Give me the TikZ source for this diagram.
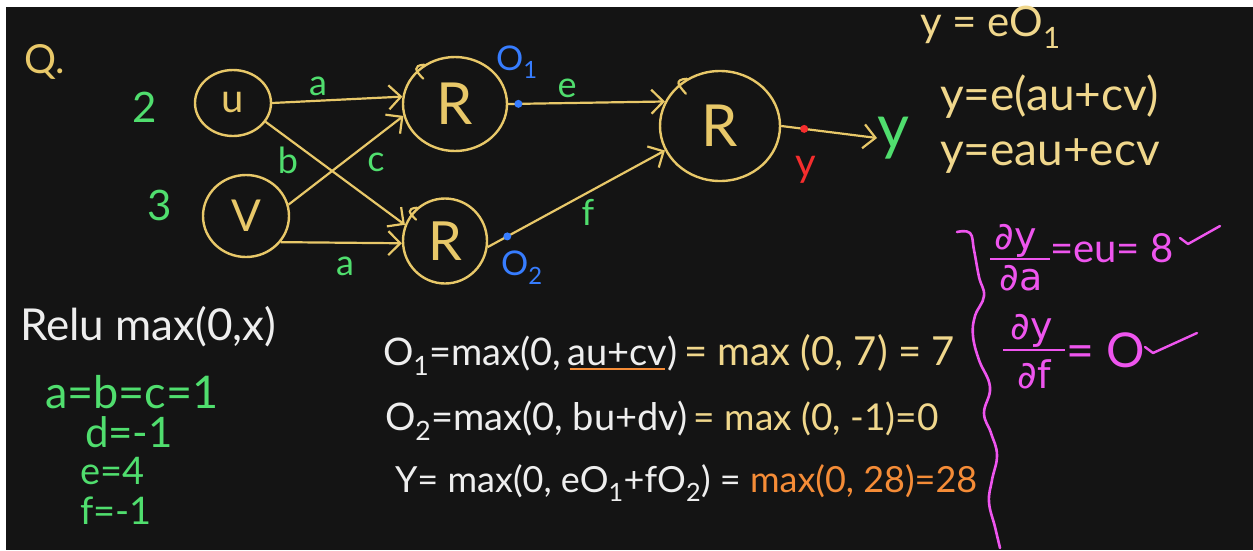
\documentclass[tikz,border=0pt]{standalone}
\usepackage{fontspec}
\setmainfont{Lato}
\newfontfamily\dejavu{DejaVu Sans}
\usetikzlibrary{arrows.meta,shapes.geometric,calc}
\definecolor{board}{RGB}{20,20,20}
\definecolor{chalk}{RGB}{232,200,105}
\definecolor{cream}{RGB}{240,215,140}
\definecolor{cgreen}{RGB}{80,222,110}
\definecolor{cblue}{RGB}{55,125,255}
\definecolor{cred}{RGB}{245,45,45}
\definecolor{cmag}{RGB}{238,85,238}
\definecolor{corange}{RGB}{245,140,55}
\definecolor{cwhite}{RGB}{238,238,238}
\newcommand\fsz[1]{\fontsize{#1}{#1}\selectfont}
\begin{document}
\begin{tikzpicture}[x=1pt,y=-1pt,
  neuron/.style={draw=chalk,line width=2.4pt,ellipse,inner sep=0pt,text=chalk},
  edge/.style={draw=chalk,line width=2.2pt,-{Straight Barb[length=12pt,width=24pt,line width=2.2pt]}},
  txt/.style={inner sep=0pt,outer sep=0pt},
  lbl/.style={txt,text=cgreen,font=\fsz{36}},
  wtxt/.style={txt,anchor=base west,text=cwhite,font=\fsz{40}},
  ytxt/.style={txt,anchor=base west,text=cream,font=\fsz{40}},
  otxt/.style={txt,anchor=base west,text=corange,font=\fsz{40}},
  gtxt/.style={txt,anchor=base west,text=cgreen,font=\fsz{40}},
  mtxt/.style={txt,text=cmag,font=\fsz{34}},
  fracbar/.style={draw=cmag,line width=2pt},
  chk/.style={draw=cmag,line width=2.4pt,line cap=round,line join=round},
  curl/.style={draw=chalk,line width=2.2pt,line cap=round},
  bdot/.style={fill=cblue},
]
\fill[board] (0,0) rectangle (1253,550);
\fill[white] (0,0) rectangle (1253,7);
\fill[white] (0,0) rectangle (6,550);
\useasboundingbox (0,0) rectangle (1253,550);

% ---------- network ----------
\node[txt,text=chalk,font=\fsz{40}] (q) at (45,62) {Q.};
\node[lbl,font=\fsz{42}] (n2) at (145,107) {2};
\node[lbl,font=\fsz{42}] (n3) at (160,205) {3};

\node[neuron,minimum width=76pt,minimum height=66pt,font=\fsz{40}] (u) at (233,103) {u};
\node[neuron,minimum width=86pt,minimum height=82pt,font=\fsz{44}] (v) at (246,216) {V};
\node[neuron,minimum width=104pt,minimum height=94pt,font=\fsz{58}] (r1) at (455,104) {R};
\node[neuron,minimum width=84pt,minimum height=85pt,font=\fsz{54}] (r2) at (445,241) {R};
\node[neuron,minimum width=120pt,minimum height=110pt,font=\fsz{58}] (r3) at (720,126) {R};

% small chalk hooks where the circles were started
\draw[curl] (r1.128) .. controls +(-12,1) and +(-8,-8) .. ($(r1.128)+(-1,14)$);
\draw[curl] (r2.130) .. controls +(-11,1) and +(-7,-7) .. ($(r2.130)+(-1,12)$);
\draw[curl] (r3.125) .. controls +(-13,1) and +(-8,-9) .. ($(r3.125)+(-1,15)$);

\node[txt,text=cgreen,font=\fsz{62}] (yout) at (893,138) {y};

\draw[edge] (u.east) -- (r1.172);
\draw[edge] (u.-30) -- (r2.158);
\draw[edge] (v.15) -- (r1.193);
\draw[edge] (v.-37) -- (r2.183);
\draw[edge] (r1.east) -- (r3.156);
\draw[edge] (r2.-8) -- (r3.204);
\draw[edge] (r3.east) -- (yout.west);

\fill[bdot] ($(r1.east)!0.065!(r3.156)$) circle (4pt);
\fill[bdot] ($(r2.-8)!0.11!(r3.204)$) circle (4pt);
\fill[cred] ($(r3.east)!0.24!(yout.west)$) circle (4pt);

\node[lbl] (la1) at (318,86) {a};
\node[lbl] (lb) at (288,160) {b};
\node[lbl] (lc) at (376,162) {c};
\node[lbl] (la2) at (345,266) {a};
\node[lbl] (le) at (567,88) {e};
\node[lbl] (lf) at (588,212) {f};

\node[txt,text=cblue,font=\fsz{34}] (o1) at (517,62) {O\textsubscript{1}};
\node[txt,text=cblue,font=\fsz{34}] (o2) at (522,268) {O\textsubscript{2}};
\node[txt,text=cred,font=\fsz{40}] (yred) at (806,170) {y};

% ---------- right equations ----------
\node[ytxt,font=\fsz{42}] (eq1) at (920,36) {y = eO\textsubscript{1}};
\node[ytxt,font=\fsz{46}] (eq2) at (940,110) {y=e(au+cv)};
\node[ytxt,font=\fsz{46}] (eq3) at (940,165) {y=eau+ecv};

% ---------- magenta part ----------
\draw[draw=cmag,line width=2.6pt,line cap=round] plot[smooth,tension=0.7] coordinates {
 (957,232) (970,233) (974,250) (979,277) (984,296) (975,316) (973,336) (979,360)
 (990,387) (984,413) (991,433) (997,455) (992,480) (989,502) (995,527) (1000,548)};

\node[mtxt,font=\dejavu\fsz{38}] (fn1) at (1016,241) {∂y};
\draw[fracbar] (990,259) -- (1050,259);
\node[mtxt,font=\dejavu\fsz{38}] (fd1) at (1021,278) {∂a};
\node[mtxt,anchor=base west,font=\fsz{40}] (fr1) at (1050,262) {=eu= 8};
\draw[chk] (1180,238) -- (1188,244) -- (1220,226);

\node[mtxt,font=\dejavu\fsz{38}] (fn2) at (1032,331) {∂y};
\draw[fracbar] (1003,350) -- (1065,350);
\node[mtxt,font=\dejavu\fsz{38}] (fd2) at (1034,374) {∂f};
\node[mtxt,anchor=base west,font=\fsz{48}] (fr2) at (1066,367) {= O};
\draw[chk] (1145,347) -- (1153,353) -- (1197,333);

% ---------- left bottom ----------
\node[wtxt,font=\fsz{44}] (relu) at (20,340) {Relu max(0,x)};
\node[gtxt,font=\fsz{45}] (g1) at (45,408) {a=b=c=1};
\node[gtxt,font=\fsz{42}] (g2) at (85,447) {d=-1};
\node[gtxt,font=\fsz{38}] (g3) at (80,484) {e=4};
\node[gtxt,font=\fsz{38}] (g4) at (80,524) {f=-1};

% ---------- middle equations ----------
\node[wtxt,font=\fsz{38}] (l1a) at (383,365) {O\textsubscript{1}=max(0,\,};
\node[wtxt,font=\fsz{38}] (l1b) at (l1a.base east) {au+cv};
\node[wtxt,font=\fsz{38}] (l1c) at (l1b.base east) {)};
\draw[corange,line width=2pt] ($(l1b.south west)+(2,4)$) -- ($(l1b.south east)+(-2,4)$);
\node[ytxt,font=\fsz{40}] (l1y) at (l1c.base east) {\,= max (0, 7) = 7};
\node[wtxt,font=\fsz{38}] (l2w) at (385,430) {O\textsubscript{2}=max(0, bu+dv)};
\node[ytxt,font=\fsz{37}] (l2y) at (l2w.base east) {\,= max (0, -1)=0};
\node[wtxt,font=\fsz{36}] (l3w) at (395,492) {Y= max(0, eO\textsubscript{1}+fO\textsubscript{2}) =};
\node[otxt,font=\fsz{36}] (l3o) at (l3w.base east) {\ max(0, 28)=28};
\end{tikzpicture}
\end{document}
